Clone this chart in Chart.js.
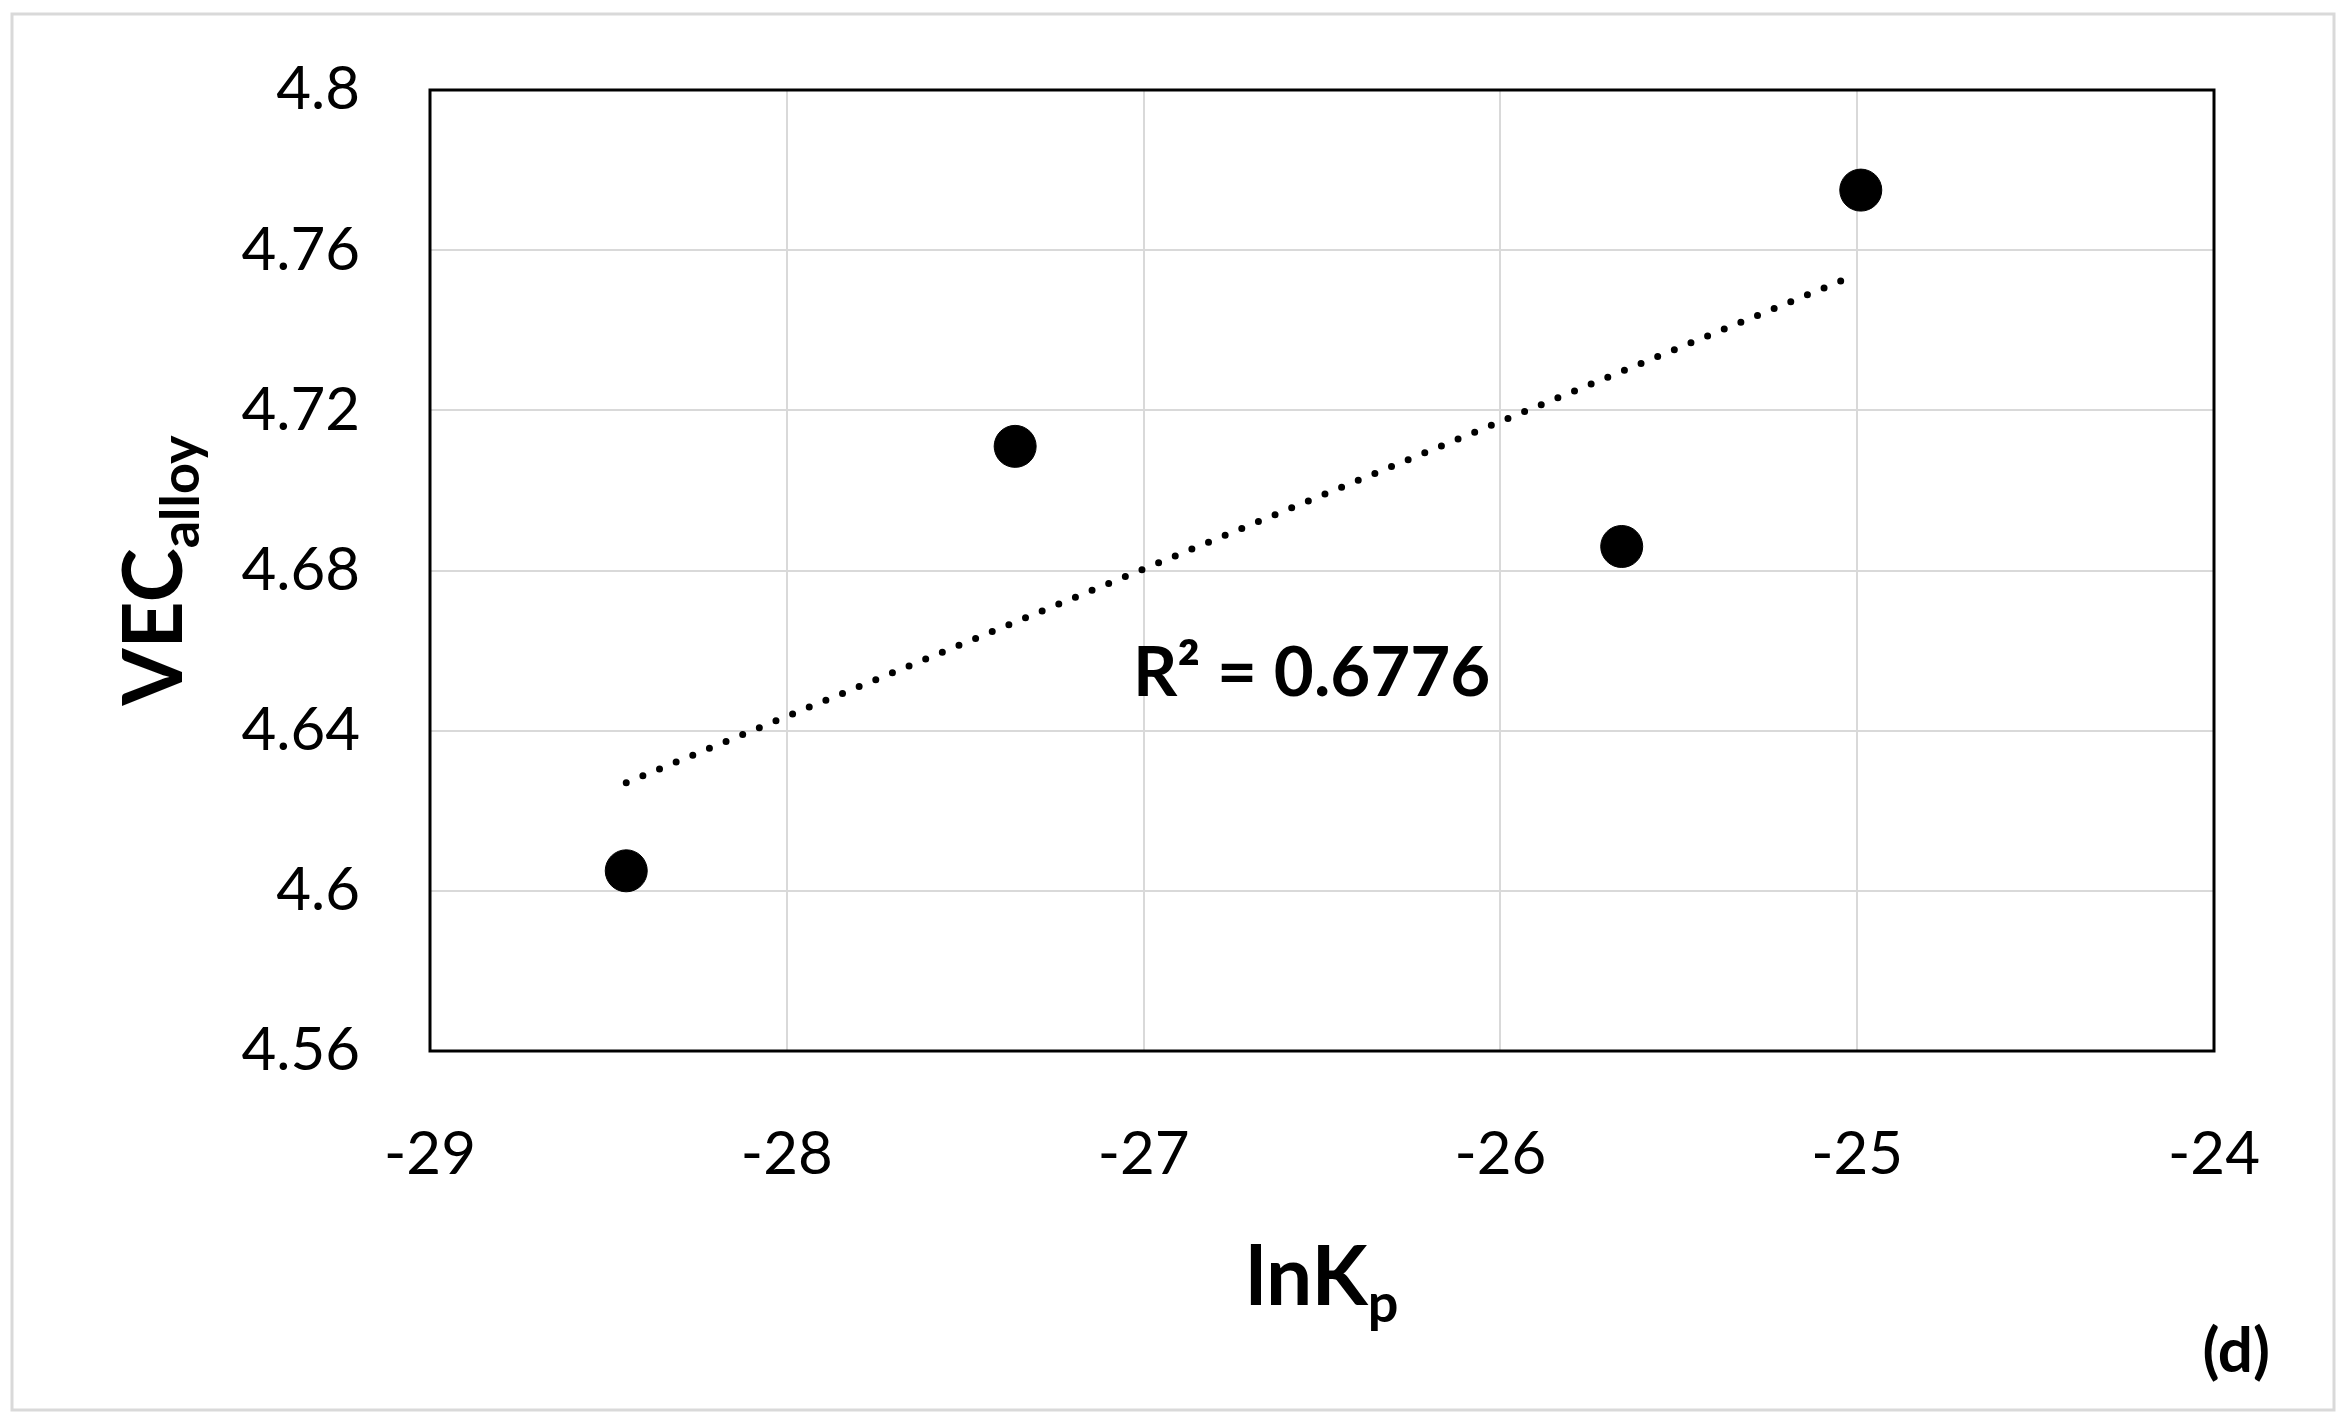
<!DOCTYPE html>
<html lang="en">
<head>
  <meta charset="UTF-8">
  <title>VEC alloy vs lnKp</title>
  <script src="https://cdn.jsdelivr.net/npm/chart.js"></script>
</head>
<style>
  body { margin: 0; background: #fff; }
  #wrap { width: 2350px; height: 1418px; }
</style>
<body>
  <div id="wrap">
    <canvas id="vecChart" width="2350" height="1418"></canvas>
  </div>
  <script>
    // datos
    const lnKp = [-28.45, -27.36, -25.66, -24.99];
    const vecAlloy = [4.605, 4.711, 4.686, 4.775];
    // linea de tendencia (extremos)
    const trendX = [-28.45, -25.0];
    const trendY = [4.627, 4.754];
    const xTicks = [-29, -28, -27, -26, -25, -24];
    const yTicks = [4.56, 4.6, 4.64, 4.68, 4.72, 4.76, 4.8];
    const r2Text = 'R² = 0.6776';

    const font = 'Lato';

    // marco, borde del area y textos
    const extras = {
      id: 'extras',
      afterDraw(chart) {
        const ctx = chart.ctx;
        const a = chart.chartArea;
        const sx = chart.scales.x, sy = chart.scales.y;
        ctx.save();
        // marco exterior
        ctx.strokeStyle = '#d9d9d9';
        ctx.lineWidth = 3;
        ctx.strokeRect(12, 14, 2322, 1396);
        // borde del area de trazado
        ctx.strokeStyle = '#000';
        ctx.lineWidth = 3;
        ctx.strokeRect(a.left, a.top, a.right - a.left, a.bottom - a.top);

        ctx.fillStyle = '#000';
        ctx.textBaseline = 'alphabetic';
        // R²
        ctx.font = 'bold 69px ' + font;
        ctx.textAlign = 'left';
        ctx.fillText(r2Text, sx.getPixelForValue(-27.03), sy.getPixelForValue(4.655) + 25);

        // titulo eje x: lnKp
        ctx.font = 'bold 82px ' + font;
        const w1 = ctx.measureText('lnK').width;
        ctx.font = 'bold 54px ' + font;
        const w2 = ctx.measureText('p').width;
        let cx = (a.left + a.right) / 2 - (w1 + w2) / 2;
        ctx.font = 'bold 82px ' + font;
        ctx.fillText('lnK', cx, 1305);
        ctx.font = 'bold 54px ' + font;
        ctx.fillText('p', cx + w1, 1322);

        // titulo eje y: VECalloy
        ctx.translate(182, (a.top + a.bottom) / 2);
        ctx.rotate(-Math.PI / 2);
        ctx.font = 'bold 82px ' + font;
        const v1 = ctx.measureText('VEC').width;
        ctx.font = 'bold 54px ' + font;
        const v2 = ctx.measureText('alloy').width;
        const vx = -(v1 + v2) / 2;
        ctx.font = 'bold 82px ' + font;
        ctx.fillText('VEC', vx, 0);
        ctx.font = 'bold 54px ' + font;
        ctx.fillText('alloy', vx + v1, 17);
        ctx.restore();

        // etiqueta del panel
        ctx.save();
        ctx.fillStyle = '#000';
        ctx.font = 'bold 62px ' + font;
        ctx.textAlign = 'right';
        ctx.fillText('(d)', 2270, 1372);
        ctx.restore();
      }
    };

    const ctx = document.getElementById('vecChart').getContext('2d');
    new Chart(ctx, {
      type: 'scatter',
      data: {
        datasets: [{
          label: 'VEC',
          data: lnKp.map((x, i) => ({ x: x, y: vecAlloy[i] })),
          backgroundColor: '#000',
          borderColor: '#000',
          pointRadius: 21,
          pointHoverRadius: 21,
          order: 1
        },
        {
          label: 'Tendencia',
          data: trendX.map((x, i) => ({ x: x, y: trendY[i] })),
          showLine: true,
          borderColor: '#000',
          borderWidth: 7,
          borderDash: [0, 18],
          borderCapStyle: 'round',
          pointRadius: 0,
          order: 2
        }]
      },
      options: {
        responsive: false,
        animation: false,
        layout: { padding: { top: 90, right: 136, left: 0, bottom: 0 } },
        plugins: { legend: { display: false }, tooltip: { enabled: false } },
        scales: {
          x: {
            type: 'linear',
            min: -29, max: -24,
            afterFit: s => { s.height = 367; s.paddingLeft = 0; s.paddingRight = 0; },
            afterBuildTicks: s => { s.ticks = xTicks.map(v => ({ value: v })); },
            grid: { color: '#d9d9d9', lineWidth: 2, drawTicks: false },
            border: { display: false },
            ticks: {
              padding: 68,
              color: '#000',
              font: { family: font, size: 60 },
              callback: v => String(v)
            }
          },
          y: {
            type: 'linear',
            min: 4.56, max: 4.8,
            afterFit: s => { s.width = 430; s.paddingTop = 0; s.paddingBottom = 0; },
            afterBuildTicks: s => { s.ticks = yTicks.map(v => ({ value: v })); },
            grid: { color: '#d9d9d9', lineWidth: 2, drawTicks: false },
            border: { display: false },
            ticks: {
              padding: 70,
              color: '#000',
              font: { family: font, size: 60 },
              callback: v => String(Number(v.toFixed(2)))
            }
          }
        }
      },
      plugins: [extras]
    });
  </script>
</body>
</html>
